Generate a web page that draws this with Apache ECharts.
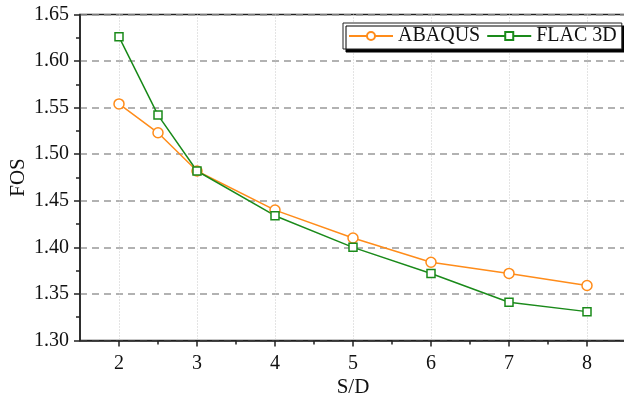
<!DOCTYPE html>
<html>
<head>
<meta charset="utf-8">
<script src="https://cdn.jsdelivr.net/npm/echarts@6/dist/echarts.min.js"></script>
<style>html,body{margin:0;padding:0;background:#fff}#c{width:624px;height:398px}</style>
</head>
<body>
<div id="c"></div>
<script>
const xValues = [2, 2.5, 3, 4, 5, 6, 7, 8];
const abaqus = [1.554, 1.523, 1.482, 1.440, 1.410, 1.384, 1.372, 1.359];
const flac3d = [1.626, 1.542, 1.482, 1.434, 1.400, 1.372, 1.341, 1.331];
const xMajorTicks = [2, 3, 4, 5, 6, 7, 8];
const xMinorTicks = [2.5, 3.5, 4.5, 5.5, 6.5, 7.5];
const seriesNames = ['ABAQUS', 'FLAC 3D'];

const font = '"Liberation Serif", "Times New Roman", serif';
const chart = echarts.init(document.getElementById('c'), null, {renderer: 'canvas'});
const pair = (xs, ys) => xs.map((x, i) => [x, ys[i]]);

chart.setOption({
  animation: false,
  backgroundColor: '#fff',
  grid: {left: 80, right: -2, top: 14.5, bottom: 57.5, containLabel: false, outerBoundsMode: 'none',
    show: true, borderColor: '#222', borderWidth: 1.5, backgroundColor: 'transparent'},
  legend: {
    left: 343, top: 23, padding: [3, 5, 3, 5], itemGap: 6,
    itemWidth: 44, itemHeight: 10,
    backgroundColor: '#fff', borderColor: '#222', borderWidth: 1,
    shadowColor: '#000', shadowBlur: 0, shadowOffsetX: 3, shadowOffsetY: 3,
    textStyle: {fontFamily: font, fontSize: 20, color: '#111', padding: [2, 0, 0, 0]},
    data: seriesNames
  },
  xAxis: [{
    type: 'value', min: 1.5, max: 8.5, interval: 0.5,
    name: 'S/D', nameLocation: 'middle', nameGap: 36, nameMoveOverlap: false,
    nameTextStyle: {fontFamily: font, fontSize: 21, color: '#111'},
    axisLine: {onZero: false, lineStyle: {color: '#222', width: 1.5}},
    axisTick: {show: true, inside: false, length: 6, customValues: xMajorTicks, lineStyle: {color: '#222', width: 1.5}},
    axisLabel: {customValues: xMajorTicks, margin: 13, fontFamily: font, fontSize: 20, color: '#111'},
    splitLine: {show: true, lineStyle: {color: '#c8c8c8', type: [1, 2], width: 1}}
  }, {
    type: 'value', min: 1.5, max: 8.5, position: 'bottom', interval: 0.5,
    axisLine: {show: false},
    axisTick: {show: true, length: 4, customValues: xMinorTicks, lineStyle: {color: '#222', width: 1.5}},
    axisLabel: {show: false},
    splitLine: {show: false}
  }],
  yAxis: {
    type: 'value', min: 1.30, max: 1.65, interval: 0.05,
    name: 'FOS', nameLocation: 'middle', nameGap: 51, nameRotate: 90, nameMoveOverlap: false,
    nameTextStyle: {fontFamily: font, fontSize: 21, color: '#111'},
    axisLine: {show: true, onZero: false, lineStyle: {color: '#222', width: 1.5}},
    axisTick: {show: true, inside: false, length: 6, lineStyle: {color: '#222', width: 1.5}},
    minorTick: {show: true, splitNumber: 2, length: 4, lineStyle: {color: '#222', width: 1.5}},
    axisLabel: {margin: 11, fontFamily: font, fontSize: 20, color: '#111', formatter: v => v.toFixed(2)},
    splitLine: {show: true, lineStyle: {color: '#999', type: [7, 5], width: 1.5}}
  },
  series: [{
    name: seriesNames[0], type: 'line', xAxisIndex: 0,
    data: pair(xValues, abaqus),
    symbol: 'circle', symbolSize: 10,
    lineStyle: {color: '#ff8c1a', width: 1.5},
    itemStyle: {color: '#fff', borderColor: '#ff8c1a', borderWidth: 1.5},
    color: '#ff8c1a'
  }, {
    name: seriesNames[1], type: 'line', xAxisIndex: 0,
    data: pair(xValues, flac3d),
    symbol: 'rect', symbolSize: 8,
    lineStyle: {color: '#1a8a1a', width: 1.5},
    itemStyle: {color: '#fff', borderColor: '#1a8a1a', borderWidth: 1.5},
    color: '#1a8a1a'
  }]
});
</script>
</body>
</html>
